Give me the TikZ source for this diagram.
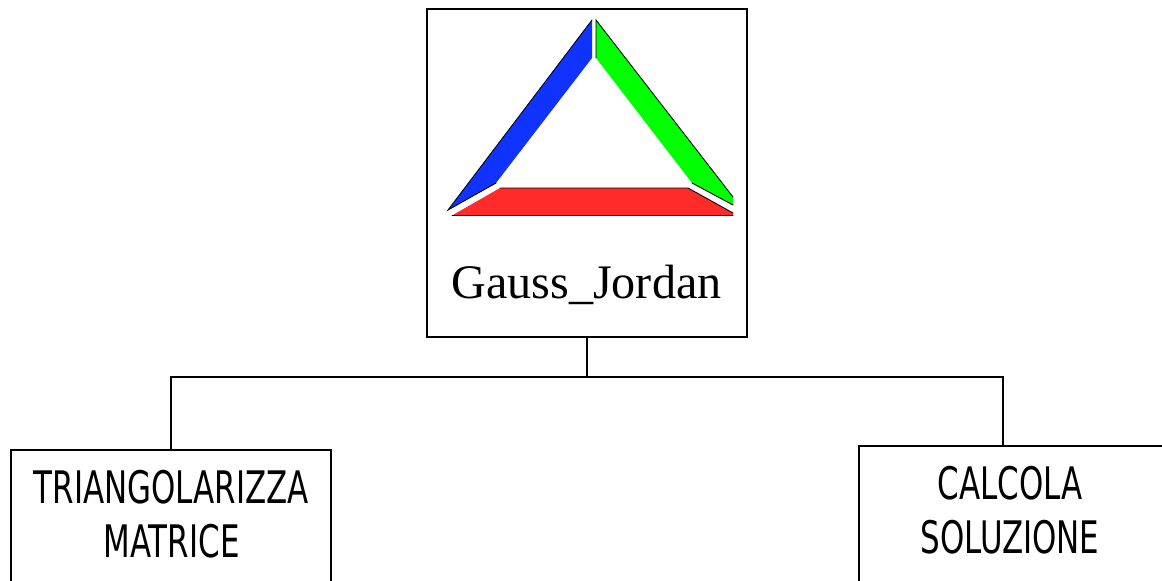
\documentclass[tikz,border=0pt]{standalone}
\usepackage{fontspec}
\setmainfont{Liberation Serif}
\newfontfamily\boxfont[FakeStretch=0.69]{DejaVu Sans}
\usepackage{xcolor}
\usetikzlibrary{positioning}
\definecolor{logoblue}{RGB}{16,51,255}
\definecolor{logogreen}{RGB}{0,255,0}
\definecolor{logored}{RGB}{255,42,42}
\tikzset{
    boxnode/.style={draw, line width=1.1pt, minimum width=6.4cm, inner sep=0pt, outer sep=0pt},
    boxlabel/.style={font=\boxfont\fontsize{25.5}{30.7}\selectfont, align=center, inner sep=0pt},
    edgeline/.style={line width=0.5pt, line cap=round}
}

\begin{document}
\begin{tikzpicture}[x=0.02cm, y=-0.02cm]
    \useasboundingbox (0, 0) rectangle (1162, 581);

    % scatole
    \node[boxnode, minimum height=6.56cm, anchor=north west] (gauss) at (427, 9) {};
    \node[boxnode, minimum height=4cm, anchor=north west] (triang) at (11, 450) {};
    \node[boxnode, minimum height=4cm, anchor=north west] (calcola) at (859, 446) {};

    % testi
    \node[font=\fontsize{27.4}{30}\selectfont, inner sep=0pt] (gausslabel) at (586.5, 285) {Gauss\_Jordan};
    \node[boxlabel] (triangl) at (171.5, 514) {TRIANGOLARIZZA\\MATRICE};
    \node[boxlabel] (calcolal) at (1010, 510) {CALCOLA\\SOLUZIONE};

    % collegamenti
    \path (gauss.south) ++(0, 40) coordinate (branch);
    \coordinate (calcolatop) at (1003, 446);
    \draw[line width=1.1pt] (gauss.south) -- (branch);
    \draw[line width=1.1pt] (triang.north) |- (branch) -| (calcolatop);

    % logo
    \fill[logoblue] (592, 20) -- (592, 58) -- (496, 183) -- (448, 210) -- cycle;
    \fill[logogreen] (596, 20) -- (733, 197) -- (733, 205) -- (692, 183) -- (596, 58) -- cycle;
    \fill[logored] (500, 188) -- (688, 188) -- (733, 213) -- (733, 215.5) -- (452, 215.5) -- cycle;
    \draw[edgeline] (592, 20) -- (448, 210) -- (496, 183);
    \draw[edgeline] (596, 58) -- (596, 20) -- (733, 197);
    \draw[edgeline] (692, 183) -- (733, 205);
    \draw[edgeline] (452, 215.5) -- (733, 215.5);
    \draw[edgeline] (500, 188) -- (688, 188) -- (733, 213);
\end{tikzpicture}
\end{document}
